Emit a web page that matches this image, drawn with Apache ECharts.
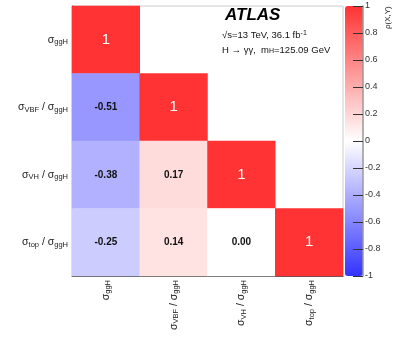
<!DOCTYPE html>
<html>
<head>
    <meta charset="utf-8" />
    <title></title>
    <style>
        html, body { margin: 0; padding: 0; background: #fff; }
        #chart { width: 399px; height: 337px; }
    </style>
</head>
<body>
    <div id="chart"></div>
    <script src="https://cdn.jsdelivr.net/npm/echarts@6/dist/echarts.min.js"></script>
    <script>
        // parameter names (subscripts of sigma)
        var params = ['ggH', 'VBF', 'VH', 'top'];
        // lower triangle of the correlation matrix, row by row (top to bottom)
        var corrRows = [
            [1],
            [-0.51, 1],
            [-0.38, 0.17, 1],
            [-0.25, 0.14, 0.00, 1]
        ];
        var barTicks = [-1, -0.8, -0.6, -0.4, -0.2, 0, 0.2, 0.4, 0.6, 0.8, 1];

        var cells = [];
        corrRows.forEach(function (row, y) {
            row.forEach(function (v, x) {
                cells.push([x, y, v]);
            });
        });

        function sigmaLabel(name) {
            if (name === 'ggH') return '{s|σ}{b|ggH}';
            return '{s|σ}{b|' + name + '}{s| / σ}{b|ggH}';
        }
        var labelRich = {
            s: { fontSize: 10.5, color: '#222', lineHeight: 13, fontFamily: 'Liberation Sans' },
            b: { fontSize: 7.5, color: '#222', lineHeight: 7, verticalAlign: 'bottom', fontFamily: 'Liberation Sans' }
        };

        var option = {
            animation: false,
            grid: [
                { left: 72, top: 6, width: 271, height: 270, show: true, borderColor: '#ccc', borderWidth: 1 },
                { left: 345, top: 6, width: 18, height: 270 }
            ],
            xAxis: [{
                type: 'category',
                data: params,
                gridIndex: 0,
                axisLine: { lineStyle: { color: '#555' } },
                axisTick: { show: false },
                splitArea: { show: false },
                axisLabel: { rotate: 90, margin: 4, formatter: sigmaLabel, rich: labelRich }
            }, {
                type: 'value', gridIndex: 1, show: false, min: 0, max: 1
            }],
            yAxis: [{
                type: 'category',
                data: params,
                inverse: true,
                gridIndex: 0,
                axisLine: { lineStyle: { color: '#555' } },
                axisTick: { show: false },
                axisLabel: { margin: 4, formatter: sigmaLabel, rich: labelRich }
            }, {
                type: 'value',
                gridIndex: 1,
                position: 'right',
                z: 10,
                min: -1, max: 1, interval: 0.2,
                axisLine: { show: true, onZero: false, lineStyle: { color: '#999', width: 1.5 } },
                axisTick: { show: true, inside: true, length: 10, lineStyle: { color: '#333' } },
                splitLine: { show: false },
                axisLabel: {
                    margin: 2, fontSize: 9, color: '#333', fontFamily: 'Liberation Sans',
                    formatter: function (v) {
                        var r = Math.round(v * 10) / 10;
                        return barTicks.indexOf(r) >= 0 ? String(r) : '';
                    }
                }
            }],
            visualMap: {
                type: 'continuous',
                min: -1, max: 1,
                seriesIndex: 0,
                calculable: false,
                left: 345, top: 6,
                itemWidth: 18, itemHeight: 270,
                padding: 0,
                z: 1,
                text: null,
                inRange: { color: ['#3333ff', '#ffffff', '#ff3333'] }
            },
            series: [{
                type: 'heatmap',
                xAxisIndex: 0, yAxisIndex: 0,
                data: cells,
                label: {
                    show: true,
                    formatter: function (p) {
                        return p.value[2] === 1 ? '{one|1}' : '{num|' + p.value[2].toFixed(2) + '}';
                    },
                    rich: {
                        one: { color: '#fff', fontSize: 15, fontFamily: 'Liberation Sans' },
                        num: { color: '#111', fontSize: 10, fontWeight: 'bold', fontFamily: 'Liberation Sans' }
                    }
                }
            }],
            graphic: [{
                type: 'text', left: 225, top: 7,
                style: { text: 'ATLAS', font: 'italic bold 17px "Liberation Sans"', fill: '#000' }
            }, {
                type: 'text', left: 222, top: 30,
                style: {
                    text: '√s=13 TeV, 36.1 fb{sup|-1}',
                    font: '9.5px "Liberation Sans"', fill: '#111',
                    rich: { sup: { fontSize: 7, verticalAlign: 'top', lineHeight: 7 } }
                }
            }, {
                type: 'text', left: 222, top: 45,
                style: {
                    text: 'H → γγ,  m{sub|H}=125.09 GeV',
                    font: '9.5px "Liberation Sans"', fill: '#111',
                    rich: { sub: { fontSize: 7, verticalAlign: 'bottom', lineHeight: 9 } }
                }
            }, {
                type: 'text', x: 384, y: 29, rotation: Math.PI / 2,
                style: { text: 'ρ(X,Y)', font: '8px "Liberation Sans"', fill: '#222', verticalAlign: 'top', align: 'left' }
            }]
        };

        var chart = echarts.init(document.getElementById('chart'));
        chart.setOption(option);
    </script>
</body>
</html>
